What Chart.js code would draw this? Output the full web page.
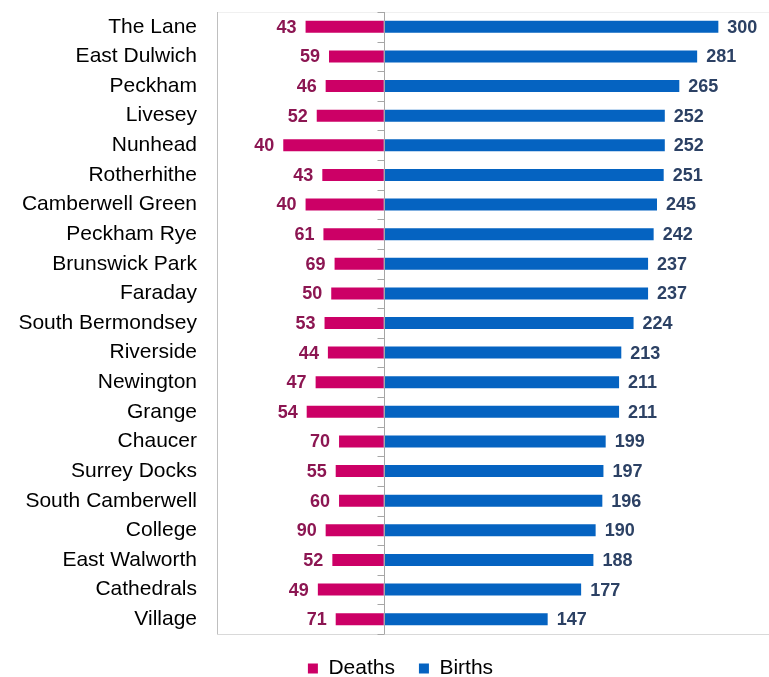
<!DOCTYPE html>
<html>

<head>
  <meta charset="utf-8">
  <title>Births and deaths by ward</title>
  <script src="https://cdn.jsdelivr.net/npm/chart.js@4.4.1/dist/chart.umd.min.js"></script>
  <style>
    html,
    body {
      margin: 0;
      padding: 0;
      background: #fff;
    }

    #wrap {
      width: 769px;
      height: 677px;
      position: relative;
    }
  </style>
</head>

<body>
  <div id="wrap"><canvas id="chart"></canvas></div>
  <script>
    const wards = ["The Lane", "East Dulwich", "Peckham", "Livesey", "Nunhead", "Rotherhithe",
      "Camberwell Green", "Peckham Rye", "Brunswick Park", "Faraday", "South Bermondsey",
      "Riverside", "Newington", "Grange", "Chaucer", "Surrey Docks", "South Camberwell",
      "College", "East Walworth", "Cathedrals", "Village"];
    // printed death counts
    const deaths = [43, 59, 46, 52, 40, 43, 40, 61, 69, 50, 53, 44, 47, 54, 70, 55, 60, 90, 52, 49, 71];
    // length of the pink bars as drawn in the picture (they don't follow the printed numbers)
    const deathBars = [70, 49, 52, 60, 90, 55, 70, 54, 44, 47, 53, 50, 61, 69, 40, 43, 40, 52, 46, 59, 43];
    const births = [300, 281, 265, 252, 252, 251, 245, 242, 237, 237, 224, 213, 211, 211, 199, 197, 196, 190, 188, 177, 147];

    const font = "'Liberation Sans', Arial, sans-serif";

    // value labels next to each bar
    const valueLabels = {
      id: 'valueLabels',
      afterDatasetsDraw(chart) {
        const ctx = chart.ctx;
        ctx.save();
        ctx.font = 'bold 18px ' + font;
        ctx.textBaseline = 'middle';
        chart.getDatasetMeta(0).data.forEach((el, i) => {
          ctx.fillStyle = '#8c1652';
          ctx.textAlign = 'right';
          ctx.fillText(deaths[i], el.x - 9, el.y + 1);
        });
        chart.getDatasetMeta(1).data.forEach((el, i) => {
          ctx.fillStyle = '#2c4164';
          ctx.textAlign = 'left';
          ctx.fillText(births[i], el.x + 9, el.y + 1);
        });
        ctx.restore();
      }
    };

    // plot frame, zero line and its small ticks
    const frame = {
      id: 'frame',
      afterLayout(chart) {
        // legend sits a bit right of the canvas centre
        chart.legend.left += 32;
      },
      afterDatasetsDraw(chart) {
        const ctx = chart.ctx;
        const a = chart.chartArea;
        const x0 = Math.round(chart.scales.x.getPixelForValue(0)) + 0.5;
        const step = (a.bottom - a.top) / wards.length;
        ctx.save();
        ctx.lineWidth = 1;
        ctx.strokeStyle = '#f0f0f0';
        ctx.beginPath();
        ctx.moveTo(a.left, Math.round(a.top) + 0.5);
        ctx.lineTo(chart.width, Math.round(a.top) + 0.5);
        ctx.stroke();
        ctx.strokeStyle = '#d9d9d9';
        ctx.beginPath();
        ctx.moveTo(a.left, Math.round(a.bottom) + 0.5);
        ctx.lineTo(chart.width, Math.round(a.bottom) + 0.5);
        ctx.stroke();
        ctx.strokeStyle = '#bfbfbf';
        ctx.beginPath();
        ctx.moveTo(Math.round(a.left) + 0.5, a.top);
        ctx.lineTo(Math.round(a.left) + 0.5, a.bottom);
        ctx.stroke();
        ctx.strokeStyle = '#a6a6a6';
        ctx.beginPath();
        ctx.moveTo(x0, a.top);
        ctx.lineTo(x0, a.bottom);
        for (let i = 0; i <= wards.length; i++) {
          const y = Math.round(a.top + i * step) + 0.5;
          ctx.moveTo(x0 - 7, y);
          ctx.lineTo(x0, y);
        }
        ctx.stroke();
        ctx.restore();
      }
    };

    new Chart(document.getElementById('chart'), {
      type: 'bar',
      data: {
        labels: wards,
        datasets: [{
          label: 'Deaths',
          data: deathBars.map(v => -v),
          backgroundColor: '#cc0066'
        }, {
          label: 'Births',
          data: births,
          backgroundColor: '#0563c1'
        }]
      },
      options: {
        indexAxis: 'y',
        responsive: true,
        maintainAspectRatio: false,
        animation: false,
        categoryPercentage: 1,
        barPercentage: 0.405,
        layout: { padding: { top: 12, right: 0, bottom: -12, left: 0 } },
        scales: {
          x: {
            stacked: true,
            display: false,
            min: -149.4,
            max: 345.4
          },
          y: {
            stacked: true,
            grid: { display: false, drawTicks: false },
            border: { display: false },
            ticks: {
              padding: 20,
              color: '#000',
              font: { family: font, size: 21 }
            },
            afterFit(s) {
              s.width = 217;
              s.paddingTop = 0;
              s.paddingBottom = 0;
            }
          }
        },
        plugins: {
          legend: {
            position: 'bottom',
            labels: {
              boxWidth: 10,
              boxHeight: 10,
              padding: 24,
              color: '#000',
              font: { family: font, size: 21 }
            }
          },
          tooltip: { enabled: false }
        }
      },
      plugins: [valueLabels, frame]
    });
  </script>
</body>

</html>
